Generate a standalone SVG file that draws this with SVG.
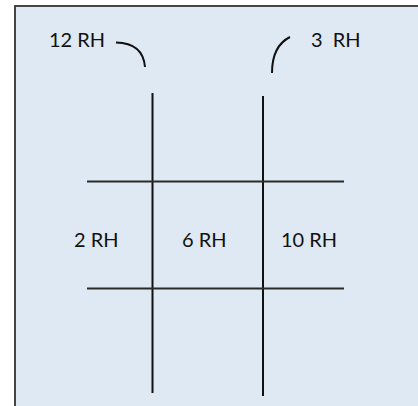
<svg xmlns="http://www.w3.org/2000/svg" width="418" height="406" viewBox="0 0 418 406">
<style>
.lbl{font-family:Lato,"Liberation Sans",Arial,sans-serif;font-size:20px;fill:#111;white-space:pre}
.ln{stroke:#111;stroke-width:2;fill:none}
.hl{stroke:#2a2a2a;stroke-width:2;fill:none}
</style>
<rect id="frame" x="15" y="6" width="420" height="420" fill="#dfe9f3" stroke="#444" stroke-width="2"/>
<g id="connectors">
<line class="ln" x1="152.5" y1="93" x2="152.5" y2="393"/>
<line class="ln" x1="263" y1="96" x2="263" y2="396"/>
<line class="hl" x1="87" y1="181.5" x2="344" y2="181.5"/>
<line class="hl" x1="87" y1="288.5" x2="344" y2="288.5"/>
<path class="ln" d="M116,42.5 Q143,43 145,67"/>
<path class="ln" d="M290,37 Q272,46 272,73"/>
</g>
<g id="n12"><text class="lbl" x="49" y="46.5">12 RH</text></g>
<g id="n3"><text class="lbl" x="311" y="46.5">3  RH</text></g>
<g id="n2"><text class="lbl" x="74" y="246.5">2 RH</text></g>
<g id="n6"><text class="lbl" x="182" y="246.5">6 RH</text></g>
<g id="n10"><text class="lbl" x="281" y="246.5">10 RH</text></g>
</svg>
